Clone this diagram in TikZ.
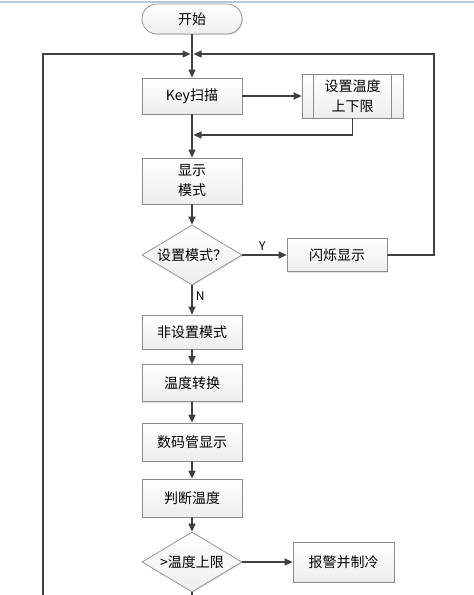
\documentclass[tikz,border=0pt]{standalone}
\usepackage{fontspec}
\setmainfont{Noto Sans CJK SC}
\usepackage{tikz}
\usetikzlibrary{positioning,shapes.geometric,arrows.meta,shadows}
\definecolor{linegray}{HTML}{404040}
\definecolor{boxgray}{HTML}{8C8C8C}
\definecolor{topblue}{HTML}{B4C8E0}
\begin{document}
\begin{tikzpicture}[x=1pt,y=-1pt,
	box/.style={draw=boxgray, line width=0.7pt, top color=white, bottom color=gray!14, minimum width=100pt, inner sep=0pt, align=center, font=\fontsize{14}{20}\selectfont, drop shadow={shadow xshift=1pt, shadow yshift=-1pt, fill=gray!35, opacity=0.6}},
	decide/.style={box, diamond, aspect=1.67, minimum height=60pt},
	flow/.style={draw=linegray, line width=1.2pt, -{Triangle[length=8pt,width=7pt]}},
	wire/.style={draw=linegray, line width=1.2pt}]
\useasboundingbox (0,0) rectangle (474,595);
\draw[topblue, line width=1.6pt] (0,2) -- (474,2);
\node[box, rounded corners=15pt, minimum height=30pt] (start) at (192,19) {开始};
\node[box, minimum height=36pt] (key) at (192,96) {Key扫描};
\node[box, minimum width=101pt, minimum height=44pt] (set) at (352.5,96) {设置温度\\上下限};
\draw[boxgray, line width=0.7pt] ([xshift=12pt]set.north west) -- ([xshift=12pt]set.south west);
\draw[boxgray, line width=0.7pt] ([xshift=-12pt]set.north east) -- ([xshift=-12pt]set.south east);
\node[box, minimum height=46pt] (disp) at (192,181) {显示\\模式};
\node[decide] (mode) at (192,255) {设置模式？};
\node[box, minimum height=33pt] (flash) at (337,255) {闪烁显示};
\node[box, minimum height=34pt] (normal) at (192,332) {非设置模式};
\node[box, minimum height=37pt] (conv) at (192,383) {温度转换};
\node[box, minimum height=38pt] (seg) at (192,442) {数码管显示};
\node[box, minimum height=38pt] (judge) at (192,498) {判断温度};
\node[decide] (upper) at (192,562) {>温度上限};
\node[box, minimum width=101pt, minimum height=40pt] (alarm) at (343.5,562) {报警并制冷};
\coordinate (join) at (192,54);
\coordinate (back) at (192,135);
\coordinate (lefttop) at (43,54);
\coordinate (leftend) at (43,600);
\coordinate (righttop) at (434,54);
\coordinate (rightmid) at (434,255);
\coordinate (downend) at (192,600);
\draw[flow] (start) -- (key);
\draw[flow] (leftend) -- (lefttop) -- ([xshift=-1.5pt]join);
\draw[flow] (flash.east) -- (rightmid) -- (righttop) -- ([xshift=1.5pt]join);
\draw[flow] (key) -- (set);
\draw[flow] (set.south) |- ([xshift=1.5pt]back);
\draw[flow] (key) -- (disp);
\draw[flow] (disp) -- (mode);
\draw[flow] (mode) -- node[above=1pt, pos=0.45, font=\fontsize{12}{14}\selectfont]{Y} (flash);
\draw[flow] (mode) -- node[right=0pt, pos=0.35, font=\fontsize{12}{14}\selectfont]{N} (normal);
\draw[flow] (normal) -- (conv);
\draw[flow] (conv) -- (seg);
\draw[flow] (seg) -- (judge);
\draw[flow] (judge) -- (upper);
\draw[flow] (upper) -- (alarm);
\draw[wire] (upper) -- (downend);
\end{tikzpicture}
\end{document}
